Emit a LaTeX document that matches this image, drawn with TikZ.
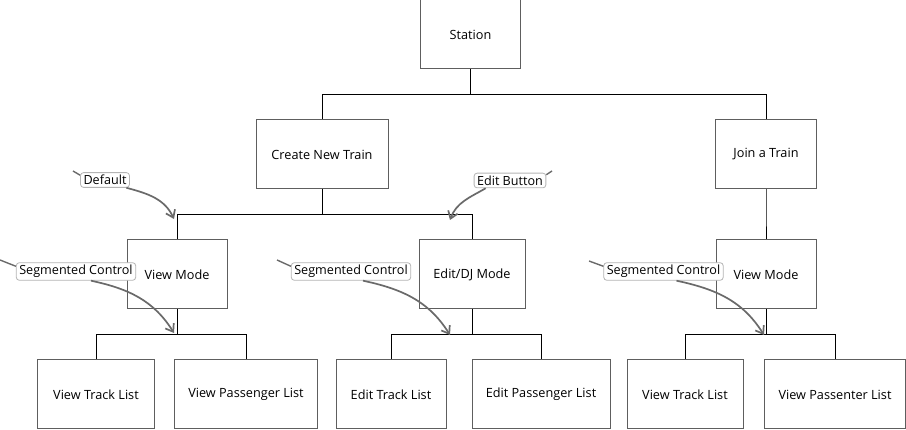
\documentclass[tikz,border=0pt]{standalone}
\usepackage{fontspec}
\setmainfont{Open Sans}
\usepackage{xcolor}
\usepackage{tikz}
\usetikzlibrary{trees,arrows.meta}

\definecolor{boxgray}{HTML}{5E5E5E}
\definecolor{notegray}{HTML}{B4B4B4}
\definecolor{arrowgray}{HTML}{6A6A6A}

\begin{document}
\begin{tikzpicture}[x=1pt,y=1pt,level distance=120pt]
\tikzstyle{level 1} = [sibling distance = 444pt]
\tikzstyle{level 2} = [sibling distance = 295pt]
\tikzstyle{level 3} = [sibling distance = 150pt]
\tikzstyle{box} = [draw=boxgray, line width=1pt, fill=white, minimum width=100pt, minimum height=69pt, font=\fontsize{12.7}{15}\selectfont]
\tikzstyle{note} = [draw=notegray, line width=0.8pt, fill=white, rounded corners=3pt, inner xsep=3pt, inner ysep=2.5pt, font=\fontsize{12.6}{15}\selectfont]
\tikzstyle{pointer} = [draw=arrowgray, line width=1.7pt, -{Straight Barb[length=7pt,width=10pt]}]
\tikzstyle{tail} = [draw=arrowgray, line width=1.4pt]
%
\useasboundingbox (0,0) rectangle (906,-430);

	\node[box] (station) at (470.5,-34.5) {Station}
		[edge from parent fork down, edge from parent/.style={draw, black, line width=1pt}]
		child[xshift=73.5pt]{
			node[box, minimum width=132pt] (create) {Create New Train}
			child[xshift=2.5pt]{
				node[box] (viewl) {View Mode}
				child[xshift=-6pt]{node[box, minimum width=117pt] (trackl) {View Track List}}
				child[xshift=-6pt]{node[box, minimum width=143pt] (passl) {View Passenger List}}
			}
			child[xshift=2.5pt]{
				node[box, minimum width=106pt] (edit) {Edit/DJ Mode}
				child[xshift=-6pt]{node[box, minimum width=110pt] (tracke) {Edit Track List}}
				child[xshift=-6pt]{node[box, minimum width=138pt] (passe) {Edit Passenger List}}
			}
		}
		child[xshift=73.5pt]{
			node[box, minimum width=101pt] (join) {Join a Train}
			child{
				node[box] (viewr) {View Mode}
				child[xshift=-6pt]{node[box, minimum width=116pt] (trackr) {View Track List}}
				child[xshift=-6pt]{node[box, minimum width=141pt] (passr) {View Passenter List}}
			}
		}
	;

% callouts
\node[note] (default) at (105,-180) {Default};
\node[note] (editbtn) at (510,-180.5) {Edit Button};
\node[note] (segl) at (76,-271.5) {Segmented Control};
\node[note] (segm) at (351,-271.5) {Segmented Control};
\node[note] (segr) at (663.5,-271.5) {Segmented Control};

\coordinate (deftip) at (174,-219);
\coordinate (edittip) at (450,-220);
\coordinate (segltip) at (174,-333);
\coordinate (segmtip) at (450,-335);
\coordinate (segrtip) at (764,-335);

\coordinate (deftail) at (73,-171);
\coordinate (edittail) at (552,-171);
\coordinate (segltail) at (0,-260);
\coordinate (segmtail) at (277,-260);
\coordinate (segrtail) at (589,-261);

\draw[pointer] (default.-20) to[out=-15, in=115] (deftip);
\draw[pointer] ([xshift=12pt]editbtn.south west) to[out=-150, in=70] (edittip);
\draw[pointer] ([xshift=15pt]segl.south) to[out=-12, in=122] (segltip);
\draw[pointer] ([xshift=12pt]segm.south) to[out=-12, in=122] (segmtip);
\draw[pointer] ([xshift=13pt]segr.south) to[out=-12, in=122] (segrtip);

\draw[tail] ([yshift=-3pt]default.north west) -- (deftail);
\draw[tail] ([yshift=-2pt]editbtn.north east) -- (edittail);
\draw[tail] ([yshift=-4pt]segl.north west) -- (segltail);
\draw[tail] ([yshift=-4pt]segm.north west) -- (segmtail);
\draw[tail] ([yshift=-4pt]segr.north west) -- (segrtail);
\end{tikzpicture}
\end{document}
